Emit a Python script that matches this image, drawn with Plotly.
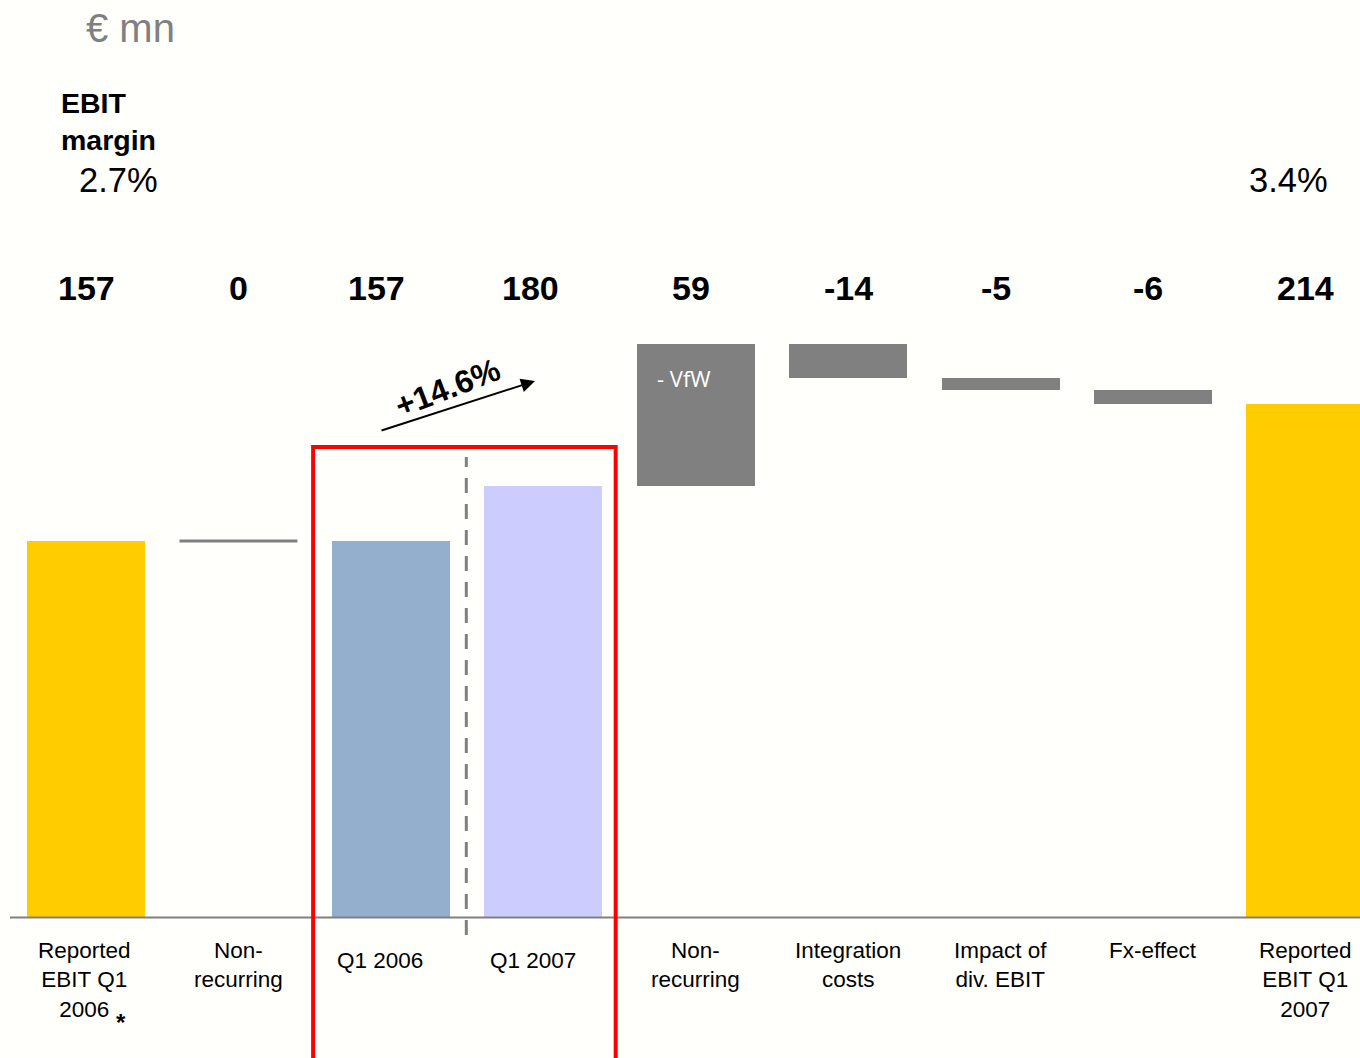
import plotly.graph_objects as go

# EBIT bridge Q1 2006 -> Q1 2007 (EUR mn)
categories = ["Reported<br>EBIT Q1<br>2006", "Non-<br>recurring", "Q1 2006", "Q1 2007",
              "Non-<br>recurring", "Integration<br>costs", "Impact of<br>div. EBIT",
              "Fx-effect", "Reported<br>EBIT Q1<br>2007"]
values = [157, 0, 157, 180, 59, -14, -5, -6, 214]
kinds = ["total", "delta", "total", "total", "delta", "delta", "delta", "delta", "total"]
value_labels = ["157", "0", "157", "180", "59", "-14", "-5", "-6", "214"]
margins = ["2.7%", "3.4%"]
growth_label = "+14.6%"

GOLD = "#FFCC00"
BLUE = "#93AFCD"
LILAC = "#CCCCFF"
GREY = "#808080"
bar_colors = [GOLD, GREY, BLUE, LILAC, GREY, GREY, GREY, GREY, GOLD]

W, H = 1360, 1058
FONT = "Liberation Sans, Arial, sans-serif"

# running totals for the bridge
bases, heights = [], []
running = 0
for v, k in zip(values, kinds):
    if k == "total":
        bases.append(0)
        heights.append(v)
        running = v
    else:
        bases.append(running)
        heights.append(v)
        running += v

idx = list(range(len(categories)))
bar_w = 0.774

fig = go.Figure()
fig.add_trace(go.Bar(
    x=idx, y=heights, base=bases, width=bar_w,
    marker=dict(color=bar_colors, line=dict(width=0)),
    hoverinfo="skip", showlegend=False,
))

# zero-valued steps are drawn as a flat connector
for i, (v, k) in enumerate(zip(values, kinds)):
    if k == "delta" and v == 0:
        fig.add_trace(go.Scatter(
            x=[i - bar_w / 2, i + bar_w / 2], y=[bases[i], bases[i]],
            mode="lines", line=dict(color=GREY, width=3),
            hoverinfo="skip", showlegend=False,
        ))

px_per_unit = 2.398
base_px = 917.5
y_top = base_px / px_per_unit
y_bot = -(H - base_px) / px_per_unit
spacing = 152.43
x_left = -86 / spacing
x_right = (W - 86) / spacing


def py(p):
    return 1 - p / H


def pxx(p):
    return p / W


# small horizontal nudges (px) of the text blocks relative to the bar centres
value_shift = [0, 0, -14, -13, -5, 0, -5, -5, 0]
cat_shift = [-2, 0, -11, -10, 0, 0, 0, 0, 0]

ann = []
# value labels above the bars
for i, t in enumerate(value_labels):
    ann.append(dict(x=i, y=py(288), xref="x", yref="paper", text=f"<b>{t}</b>",
                    xshift=value_shift[i],
                    showarrow=False, font=dict(size=34, color="black", family=FONT),
                    xanchor="center", yanchor="middle"))

# category labels under the baseline
for i, c in enumerate(categories):
    top = 936 if "<br>" in c or c == "Fx-effect" else 946
    ann.append(dict(x=i, y=py(top), xref="x", yref="paper", text=c, xshift=cat_shift[i],
                    showarrow=False, font=dict(size=22.5, color="black", family=FONT),
                    xanchor="center", yanchor="top", align="center"))

ann.append(dict(x=pxx(121), y=py(1022), xref="paper", yref="paper", text="<b>*</b>",
                showarrow=False, font=dict(size=24, color="black", family=FONT),
                xanchor="center", yanchor="middle"))

ann.append(dict(x=pxx(130), y=py(28), xref="paper", yref="paper", text="€ mn",
                showarrow=False, font=dict(size=40, color=GREY, family=FONT),
                xanchor="center", yanchor="middle"))
ann.append(dict(x=pxx(59), y=py(85), xref="paper", yref="paper", text="<b>EBIT<br>margin</b>",
                showarrow=False, font=dict(size=28.5, color="black", family=FONT),
                xanchor="left", yanchor="top", align="left"))
ann.append(dict(x=pxx(119), y=py(180), xref="paper", yref="paper", text=margins[0],
                showarrow=False, font=dict(size=34.5, color="black", family=FONT),
                xanchor="center", yanchor="middle"))
ann.append(dict(x=pxx(1288), y=py(180), xref="paper", yref="paper", text=margins[1],
                showarrow=False, font=dict(size=34.5, color="black", family=FONT),
                xanchor="center", yanchor="middle"))

ann.append(dict(x=pxx(655), y=py(378), xref="paper", yref="paper", text="- VfW",
                showarrow=False, font=dict(size=22, color="white", family="Open Sans, sans-serif"),
                xanchor="left", yanchor="middle"))

# growth arrow between Q1 2006 and Q1 2007
ann.append(dict(x=pxx(535), y=py(381), xref="paper", yref="paper", text="",
                ax=380 - 535, ay=431 - 381, axref="pixel", ayref="pixel",
                showarrow=True, arrowhead=2, arrowsize=1.4, arrowwidth=2, arrowcolor="black"))
ann.append(dict(x=pxx(447), y=py(388), xref="paper", yref="paper", text=f"<b>{growth_label}</b>",
                showarrow=False, textangle=-21, font=dict(size=32, color="black", family=FONT),
                xanchor="center", yanchor="middle"))

shapes = [
    # baseline
    dict(type="line", xref="paper", yref="y", x0=pxx(10), x1=1, y0=0, y1=0,
         line=dict(color=GREY, width=2)),
    # highlight box around the like-for-like comparison
    dict(type="rect", xref="x", yref="paper", x0=1.49, x1=3.475, y0=-0.05, y1=py(447),
         line=dict(color="#FF0000", width=4), fillcolor="rgba(0,0,0,0)"),
    # separator inside the box
    dict(type="line", xref="x", yref="paper", x0=2.495, x1=2.495, y0=py(935), y1=py(457),
         line=dict(color=GREY, width=3, dash="15px,11px")),
]

fig.update_layout(
    width=W, height=H, autosize=False,
    margin=dict(l=0, r=0, t=0, b=0, pad=0),
    paper_bgcolor="#FFFFFC", plot_bgcolor="#FFFFFC",
    xaxis=dict(range=[x_left, x_right], visible=False, fixedrange=True),
    yaxis=dict(range=[y_bot, y_top], visible=False, fixedrange=True),
    annotations=ann, shapes=shapes, bargap=0,
)

fig.write_html("out.html", config={"displayModeBar": False})
